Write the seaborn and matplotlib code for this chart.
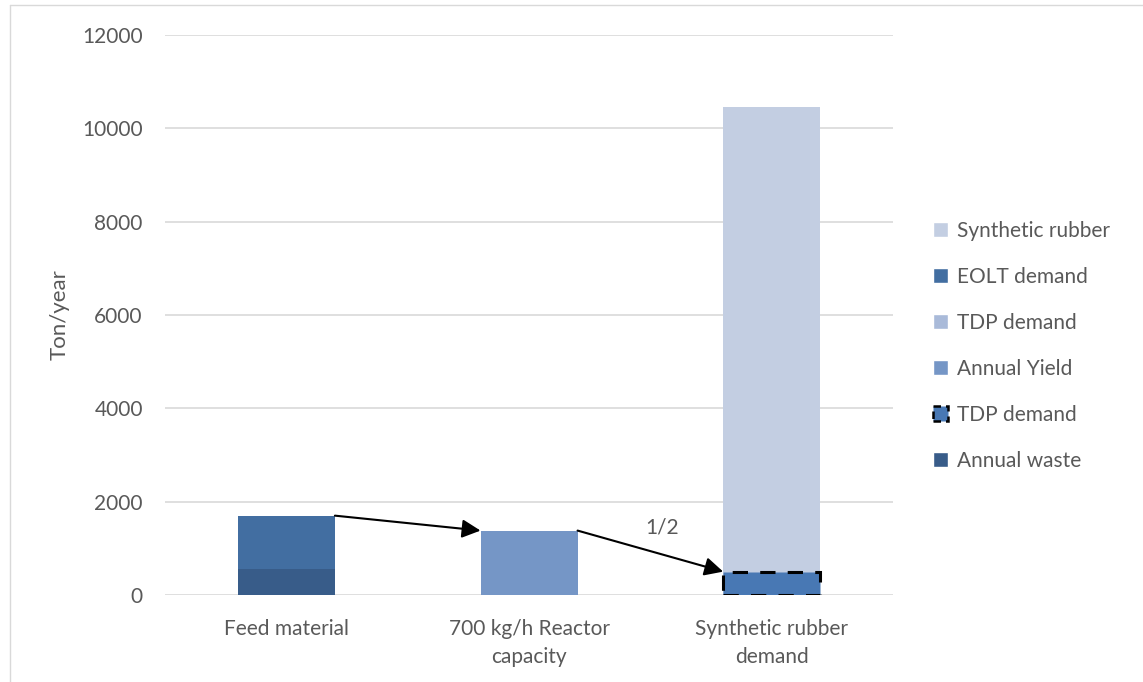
import matplotlib
matplotlib.use("Agg")
import matplotlib.pyplot as plt
from matplotlib.patches import Patch
import pandas as pd
import seaborn as sns

# Categories and series values (ton/year)
categories = ["Feed material", "700 kg/h Reactor\ncapacity", "Synthetic rubber\ndemand"]
eolt_demand = [1700, 0, 0]
annual_waste = [560, 0, 0]
annual_yield = [0, 1380, 0]
synthetic_rubber = [0, 0, 10450]
tdp_demand = [0, 0, 500]
ratio_label = "1/2"

colors = {
    "Synthetic rubber": "#C3CEE2",
    "EOLT demand": "#426EA1",
    "TDP demand": "#A9BAD9",
    "Annual Yield": "#7596C6",
    "TDP demand (box)": "#4878B4",
    "Annual waste": "#385C89",
}

sns.set_theme(style="white")
plt.rcParams["font.family"] = ["Lato", "DejaVu Sans"]
text_color = "#595959"
fs = 15

fig = plt.figure(figsize=(11.43, 6.82), dpi=100)
ax = fig.add_axes([0.1444, 0.1276, 0.6369, 0.8211])

def draw(values, color, **kw):
    df = pd.DataFrame({"cat": categories, "val": values})
    df = df[df["val"] > 0]
    kw.setdefault("linewidth", 0)
    sns.barplot(data=df, x="cat", y="val", order=categories, color=color,
                width=0.4, saturation=1, ax=ax, **kw)

# Totals first, lower components drawn over them
draw(synthetic_rubber, colors["Synthetic rubber"])
draw(eolt_demand, colors["EOLT demand"])
draw(annual_yield, colors["Annual Yield"])
draw(annual_waste, colors["Annual waste"])
draw(tdp_demand, colors["TDP demand (box)"], edgecolor="black",
     linestyle=(0, (5, 4)), linewidth=2.2)

ax.set_xlim(-0.5, 2.5)
ax.set_ylim(0, 12000)
ax.set_yticks(range(0, 12001, 2000))
ax.yaxis.grid(True, color="#D9D9D9", linewidth=1.2)
ax.set_axisbelow(True)
for s in ax.spines.values():
    s.set_visible(False)
ax.tick_params(axis="both", length=0, colors=text_color, labelsize=fs)
ax.tick_params(axis="y", pad=16)
ax.tick_params(axis="x", pad=17)
ax.set_xlabel("")
ax.set_ylabel("Ton/year", color=text_color, fontsize=fs + 1, labelpad=9)
for lab in ax.get_xticklabels():
    lab.set_linespacing(1.55)

# Flow arrows between the bars
arrow = dict(arrowstyle="-|>", color="black", lw=1.5, mutation_scale=28,
             shrinkA=0, shrinkB=0)
ax.annotate("", xy=(1 - 0.2, annual_yield[1]), xytext=(0 + 0.2, eolt_demand[0]),
            arrowprops=arrow)
ax.annotate("", xy=(2 - 0.2, tdp_demand[2]), xytext=(1 + 0.2, annual_yield[1]),
            arrowprops=arrow)
ax.text(1.547, 1436, ratio_label, ha="center", va="center", fontsize=fs,
        color=text_color)

# Legend
handles = [
    Patch(facecolor=colors["Synthetic rubber"], label="Synthetic rubber"),
    Patch(facecolor=colors["EOLT demand"], label="EOLT demand"),
    Patch(facecolor=colors["TDP demand"], label="TDP demand"),
    Patch(facecolor=colors["Annual Yield"], label="Annual Yield"),
    Patch(facecolor=colors["TDP demand (box)"], edgecolor="black",
          linestyle=(0, (3, 2)), linewidth=1.8, label="TDP demand"),
    Patch(facecolor=colors["Annual waste"], label="Annual waste"),
]
leg = fig.legend(handles=handles, loc="center left", bbox_to_anchor=(0.800, 0.493),
                 frameon=False, fontsize=fs, handlelength=0.7, handleheight=0.7,
                 handletextpad=0.45, labelspacing=1.25, labelcolor=text_color)

# Chart frame
fig.add_artist(plt.Line2D([10 / 1143, 10 / 1143], [0, 1 - 5 / 682],
                          transform=fig.transFigure, color="#D9D9D9", lw=1))
fig.add_artist(plt.Line2D([10 / 1143, 1], [1 - 5 / 682, 1 - 5 / 682],
                          transform=fig.transFigure, color="#D9D9D9", lw=1))

fig.savefig("out.png", dpi=100)
